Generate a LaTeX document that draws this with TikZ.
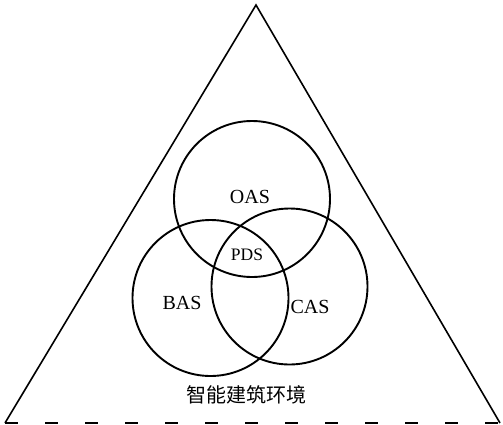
\documentclass[tikz,border=0pt]{standalone}
\usepackage{fontspec}
\setmainfont{Liberation Serif}
\newfontfamily\cjk{Noto Sans CJK SC}
\begin{document}
\begin{tikzpicture}[x=1pt,y=-1pt,
  setc/.style={draw=black,line width=1.9pt,circle,minimum size=156pt,inner sep=0pt},
  lab/.style={font=\fontsize{20}{20}\selectfont,inner sep=0pt},
  smalllab/.style={font=\fontsize{17.5}{17.5}\selectfont,inner sep=0pt},
  edge/.style={line width=1.6pt},
  baseline/.style={line width=1.8pt,dash pattern=on 13pt off 27pt}]
\useasboundingbox (0,0) rectangle (503,424);
\coordinate (top) at (256,5);
\coordinate (bl) at (5,423);
\coordinate (br) at (500,423);
\draw[edge,line join=miter] (bl) -- (top) -- (br);
\draw[baseline] (bl) -- (br);
\node[setc] (oas) at (252,199) {};
\node[setc] (bas) at (210.5,298) {};
\node[setc] (cas) at (289.5,286.5) {};
\node[lab] (toas) at (250,197) {OAS};
\node[smalllab] (tpds) at (247,255) {PDS};
\node[lab] (tbas) at (182,303) {BAS};
\node[lab] (tcas) at (310,307) {CAS};
\node[inner sep=0pt,font=\cjk\fontsize{20}{20}\selectfont] (env) at (246,395) {智能建筑环境};
\end{tikzpicture}
\end{document}
